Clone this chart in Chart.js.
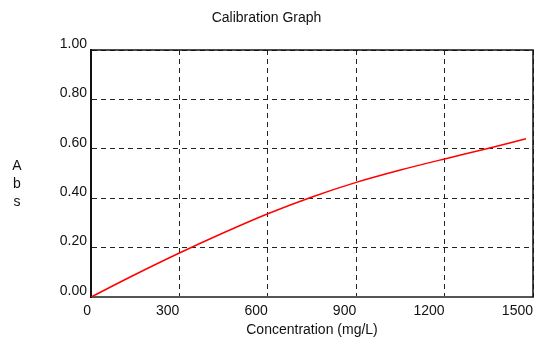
<!DOCTYPE html>
<html>
<head>
<meta charset="utf-8">
<script src="https://cdn.jsdelivr.net/npm/chart.js@4"></script>
<style>
  html, body { margin: 0; padding: 0; background: #fff; }
  #wrap { width: 535px; height: 339px; }
</style>
</head>
<body>
<div id="wrap"><canvas id="graficoCalib"></canvas></div>
<script>
// dados
const concentracoes = [0, 150, 300, 450, 600, 750, 900, 1050, 1200, 1350, 1476];
const absorbancias = [0, 0.091, 0.178, 0.26, 0.337, 0.405, 0.464, 0.514, 0.559, 0.602, 0.641];
const ticksX = [0, 300, 600, 900, 1200, 1500];
const ticksY = [0, 0.2, 0.4, 0.6, 0.8, 1.0];
const tituloY = ['A', 'b', 's'];

const fonte = { family: 'Liberation Sans, Arial, sans-serif', size: 14 };

// moldura (topo e direita) e o rótulo vertical "A b s"
const extras = {
  id: 'extras',
  afterDraw(chart) {
    const c = chart.ctx;
    const a = chart.chartArea;
    c.save();
    c.strokeStyle = '#111';
    c.lineWidth = 1.5;
    c.beginPath();
    c.moveTo(a.left, a.top);
    c.lineTo(a.right, a.top);
    c.lineTo(a.right, a.bottom);
    c.stroke();
    c.fillStyle = '#111';
    c.font = '14px Liberation Sans, Arial, sans-serif';
    c.textAlign = 'center';
    c.textBaseline = 'alphabetic';
    tituloY.forEach((t, i) => c.fillText(t, 17, 170 + i * 18));
    c.restore();
  }
};

new Chart(document.getElementById('graficoCalib'), {
  type: 'line',
  data: {
    datasets: [{
      label: 'Abs',
      data: concentracoes.map((x, i) => ({ x: x, y: absorbancias[i] })),
      borderColor: '#ff0000',
      borderWidth: 1.5,
      pointRadius: 0,
      cubicInterpolationMode: 'monotone',
      fill: false
    }]
  },
  options: {
    responsive: true,
    maintainAspectRatio: false,
    animation: false,
    layout: { padding: { left: 0, right: 2, top: 0, bottom: 0 } },
    plugins: {
      legend: { display: false },
      tooltip: { enabled: false },
      title: {
        display: true,
        text: 'Calibration Graph',
        color: '#111',
        font: { family: fonte.family, size: 14, weight: 'normal' },
        padding: { top: 9.6, bottom: 23.6 }
      }
    },
    scales: {
      x: {
        type: 'linear',
        min: 0,
        max: 1500,
        afterBuildTicks: s => { s.ticks = ticksX.map(v => ({ value: v })); },
        afterFit: s => { s.height = 42; s.paddingLeft = 0; s.paddingRight = 0; },
        grid: { color: '#222', lineWidth: 1, drawTicks: false },
        border: { display: true, color: '#555', width: 2, dash: [5, 4] },
        ticks: {
          color: '#111',
          font: fonte,
          padding: 6,
          align: 'end',
          maxRotation: 0,
          autoSkip: false,
          callback: v => String(v)
        },
        title: {
          display: true,
          text: 'Concentration (mg/L)',
          color: '#111',
          font: fonte,
          padding: { top: 0, bottom: 0 }
        }
      },
      y: {
        min: 0,
        max: 1,
        afterBuildTicks: s => { s.ticks = ticksY.map(v => ({ value: v })); },
        afterFit: s => { s.width = 91; s.paddingTop = 0; s.paddingBottom = 0; },
        grid: { color: '#222', lineWidth: 1, drawTicks: false },
        border: { display: true, color: '#111', width: 2, dash: [5, 4] },
        ticks: {
          color: '#111',
          font: fonte,
          padding: 4,
          labelOffset: -6,
          callback: v => v.toFixed(2)
        }
      }
    }
  },
  plugins: [extras]
});
</script>
</body>
</html>
